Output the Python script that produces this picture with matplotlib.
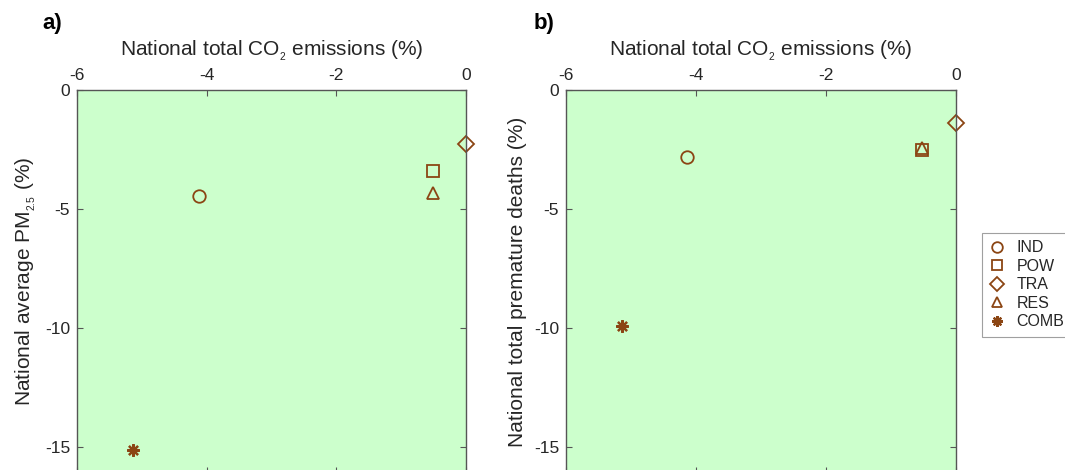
import matplotlib
matplotlib.use("Agg")
import matplotlib.pyplot as plt
import numpy as np

plt.rcParams["font.family"] = ["Liberation Sans", "DejaVu Sans"]
plt.rcParams["mathtext.fontset"] = "custom"
plt.rcParams["mathtext.rm"] = "Liberation Sans"
plt.rcParams["mathtext.it"] = "Liberation Sans"
plt.rcParams["axes.unicode_minus"] = False
plt.rcParams["text.color"] = "#262626"
plt.rcParams["axes.labelcolor"] = "#262626"
plt.rcParams["xtick.labelcolor"] = "#262626"
plt.rcParams["ytick.labelcolor"] = "#262626"

# sectors and their changes (%)
sectors = ["IND", "POW", "TRA", "RES", "COMB"]
markers = ["o", "s", "D", "^", (8, 2, 0)]
co2 = [-4.12, -0.51, 0.0, -0.51, -5.13]
pm25 = [-4.47, -3.42, -2.28, -4.33, -15.15]
co2_b = [-4.14, -0.53, 0.0, -0.53, -5.14]
deaths = [-2.83, -2.53, -1.40, -2.42, -9.92]

brown = "#8b4513"
green = "#ccffcc"
spine = "#555555"

fig = plt.figure(figsize=(10.65, 4.7), dpi=100)
ax1 = fig.add_axes([0.0723, -0.0064, 0.3653, 0.815])
ax2 = fig.add_axes([0.5315, -0.0064, 0.3662, 0.815])


def style(ax, ylabel):
    ax.set_facecolor(green)
    ax.set_xlim(-6, 0)
    ax.set_ylim(-16.1, 0)
    ax.set_xticks([-6, -4, -2, 0])
    ax.set_yticks([-15, -10, -5, 0])
    ax.xaxis.set_ticks_position("both")
    ax.yaxis.set_ticks_position("both")
    ax.xaxis.set_label_position("top")
    ax.tick_params(direction="in", length=4, width=0.8, color=spine,
                   labelsize=12.5, labeltop=True, labelbottom=False, pad=5)
    for s in ax.spines.values():
        s.set_color(spine)
        s.set_linewidth(1.0)
    ax.set_xlabel("National total CO$_{_2}$ emissions (%)", fontsize=15,
                  labelpad=9)
    ax.set_ylabel(ylabel, fontsize=15, labelpad=5)


def points(ax, xs, ys):
    handles = []
    for x, y, m, name in zip(xs, ys, markers, sectors):
        if name == "COMB":
            h, = ax.plot(x, y, marker=m, ls="none", color=brown,
                         markersize=9, markeredgewidth=1.6, label=name,
                         clip_on=False)
        else:
            size = {"o": 9, "s": 8, "D": 8, "^": 9}[m]
            h, = ax.plot(x, y, m, markerfacecolor="none",
                         markeredgecolor=brown, markeredgewidth=1.3,
                         markersize=size, label=name, clip_on=False)
        handles.append(h)
    return handles


style(ax1, "National average PM$_{_{2.5}}$ (%)")
style(ax2, "National total premature deaths (%)")
handles = points(ax1, co2, pm25)
points(ax2, co2_b, deaths)

fig.text(0.040, 0.938, "a)", fontsize=16, fontweight="bold", color="black")
fig.text(0.501, 0.938, "b)", fontsize=16, fontweight="bold", color="black")

leg = fig.legend(handles=handles, loc="upper left",
                 bbox_to_anchor=(0.9146, 0.521), fontsize=11.5,
                 frameon=True, fancybox=False, edgecolor="#888888",
                 handlelength=1.0, handletextpad=0.7, labelspacing=0.22,
                 borderpad=0.45, markerscale=0.85)
leg.get_frame().set_linewidth(0.8)

fig.savefig("out.png", dpi=100)
